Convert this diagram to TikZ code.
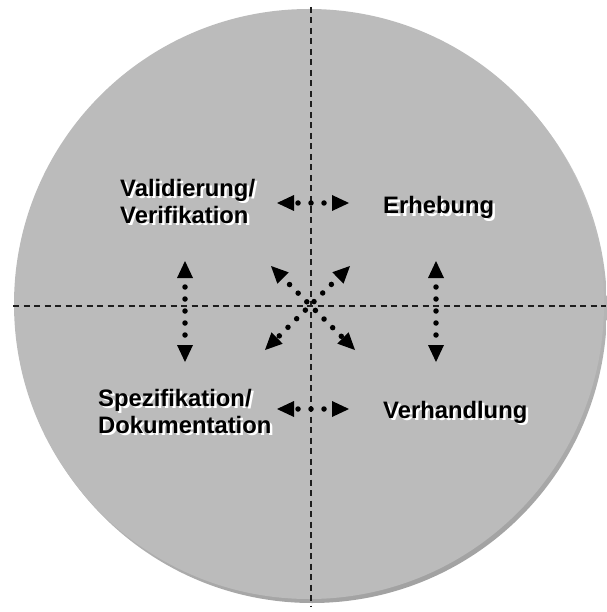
\documentclass[tikz,border=0pt]{standalone}
\usepackage{fontspec}
\setmainfont{Liberation Sans}
\usetikzlibrary{arrows.meta}
\definecolor{discgray}{HTML}{BBBBBB}
\definecolor{rimlight}{HTML}{DDDDDD}
\definecolor{rimdark}{HTML}{A2A2A2}
\definecolor{dashcol}{HTML}{1E1E1E}
\begin{document}
\begin{tikzpicture}[x=1pt,y=-1pt,
  axisline/.style={dashcol, line width=1.8pt, dash pattern=on 6pt off 4.5pt},
  lbl/.style={font=\bfseries\fontsize{23.8}{27}\selectfont, align=left, inner sep=0pt, anchor=base west, text=black},
  shadowlbl/.style={lbl, text=white},
  tip/.tip={Triangle[length=17pt,width=16pt,line width=0pt]},
  dotarrow/.style 2 args={black, line width=5.5pt, line cap=round,
     dash pattern=on 0pt off #1, dash phase=#2, tip-tip},
]
\useasboundingbox (0,0) rectangle (606,612);
% disc with rim
\shade[top color=rimlight, bottom color=rimdark, shading angle=20] (312,308) circle (295);
\fill[discgray] (309,304) circle (295);
% axes
\coordinate (vtop) at (311,7);
\coordinate (vbot) at (311,606);
\coordinate (hleft) at (13,306);
\coordinate (hright) at (606,306);
\draw[axisline] (vtop) -- (vbot);
\draw[axisline] (hleft) -- (hright);
% labels (white shadow, then black text); base anchor = last line
\node[shadowlbl] (valS) at (122.5,225.5) {Validierung/\\Verifikation};
\node[lbl] (val) at (120,223) {Validierung/\\Verifikation};
\node[shadowlbl] (erhS) at (385.5,216.5) {Erhebung};
\node[lbl] (erh) at (383,214) {Erhebung};
\node[shadowlbl] (speS) at (100.5,435.5) {Spezifikation/\\Dokumentation};
\node[lbl] (spe) at (98,433) {Spezifikation/\\Dokumentation};
\node[shadowlbl] (verS) at (385.5,420.5) {Verhandlung};
\node[lbl] (ver) at (383,418) {Verhandlung};
% arrow end points
\coordinate (t1) at (277,203);  \coordinate (t2) at (349,203);
\coordinate (b1) at (277,409);  \coordinate (b2) at (349,409);
\coordinate (l1) at (185,261);  \coordinate (l2) at (185,362);
\coordinate (r1) at (436,261);  \coordinate (r2) at (436,362);
\coordinate (d1) at (271,266);  \coordinate (d2) at (355,350);
\coordinate (e1) at (350,266);  \coordinate (e2) at (265,350);
% dotted double arrows
\draw[dotarrow={13pt}{9pt}] (t1) -- (t2);
\draw[dotarrow={13pt}{9pt}] (b1) -- (b2);
\draw[dotarrow={12pt}{3pt}] (l1) -- (l2);
\draw[dotarrow={12pt}{3pt}] (r1) -- (r2);
\draw[dotarrow={12.2pt}{3pt}] (d1) -- (d2);
\draw[dotarrow={12.2pt}{3pt}] (e1) -- (e2);
\end{tikzpicture}
\end{document}
